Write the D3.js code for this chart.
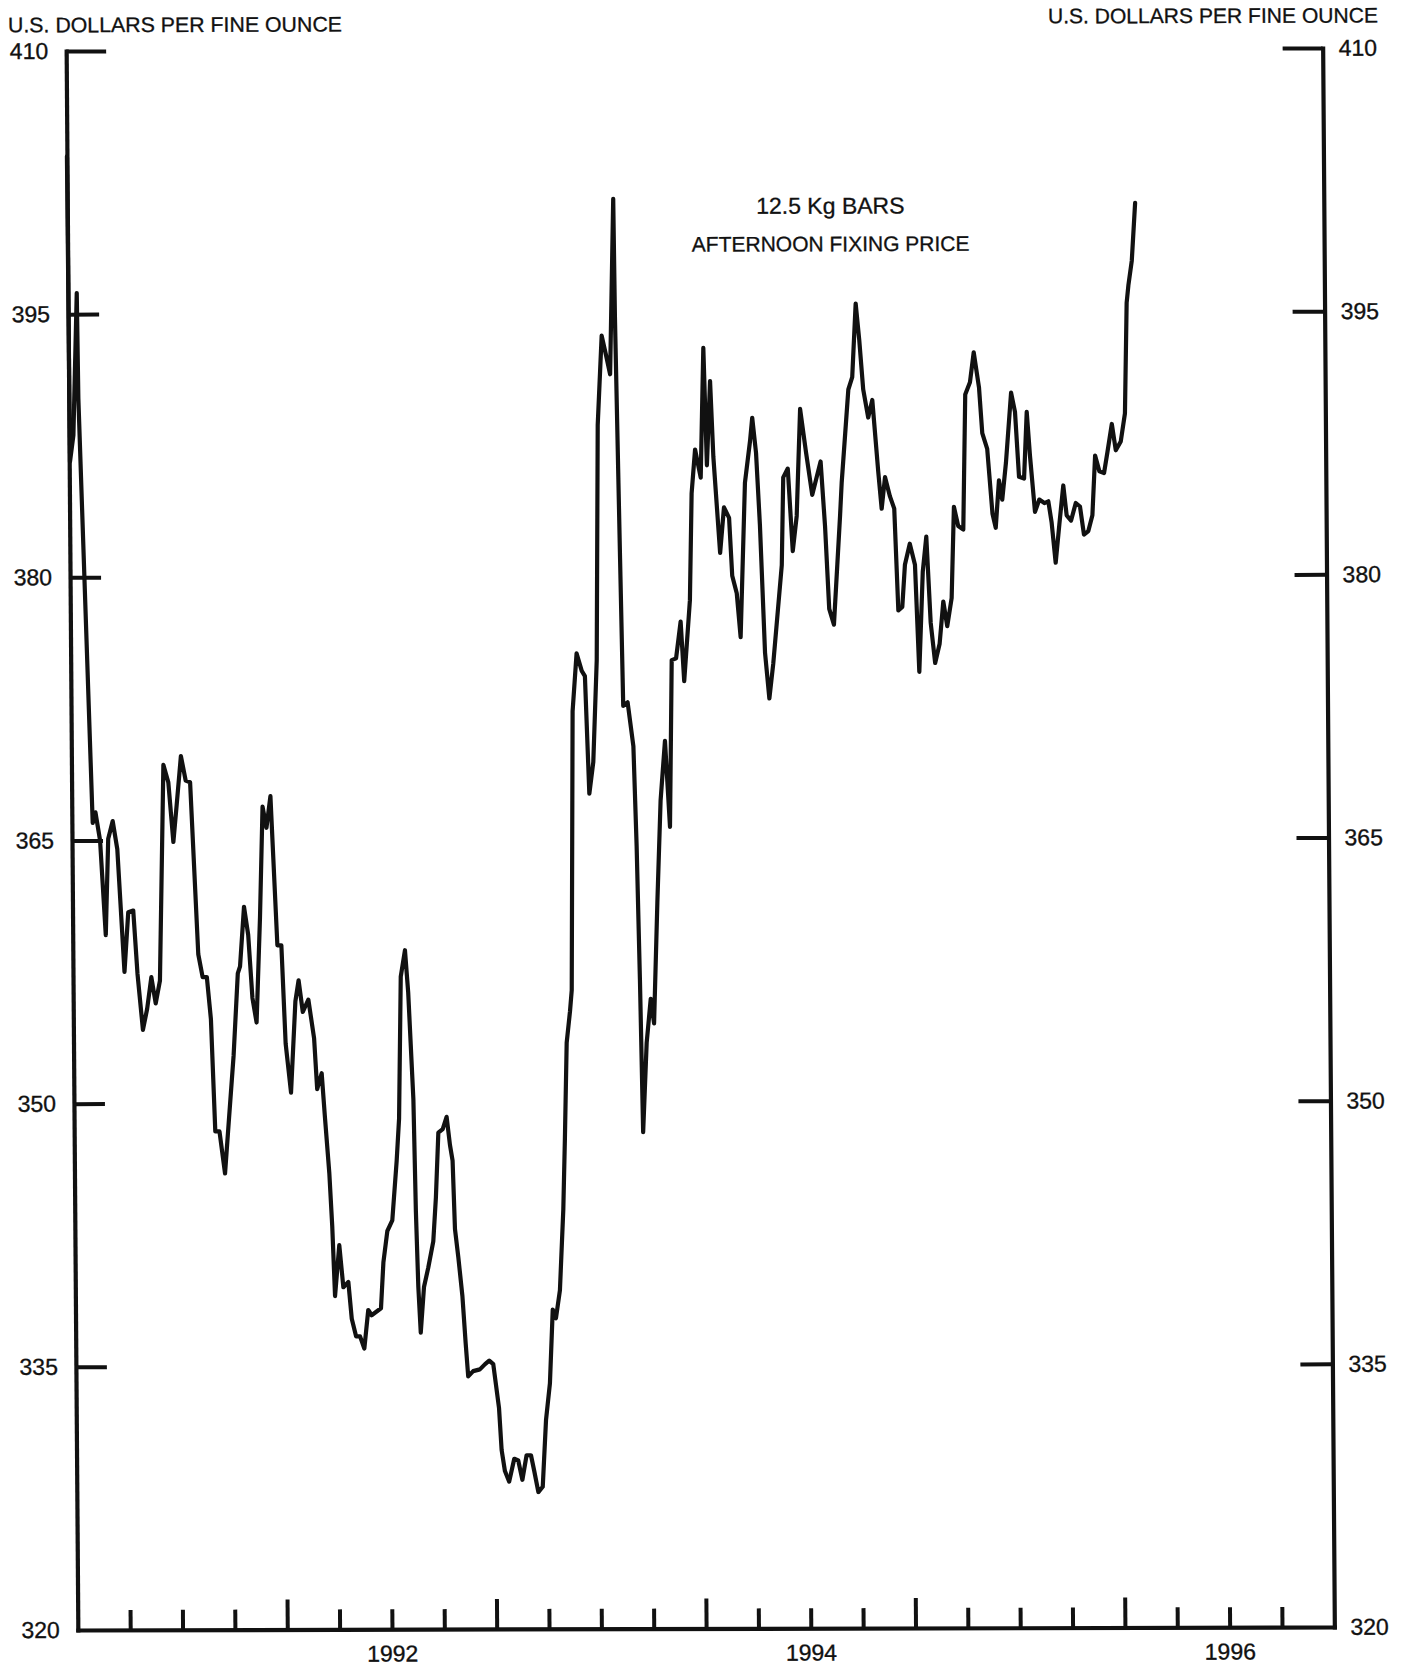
<!DOCTYPE html>
<html><head><meta charset="utf-8">
<script src="https://cdn.jsdelivr.net/npm/d3@7"></script>
<style>html,body{margin:0;padding:0;background:#fff;} svg{display:block;}</style>
</head><body>
<svg id="chart" width="1407" height="1666"></svg>
<script>
// ---- data (decimal year, US$ per fine ounce) ----
const dates = [
1991.000,1991.004,1991.021,1991.042,1991.046,1991.0995,1991.113,1991.134,1991.158,1991.173,
1991.195,1991.216,1991.246,1991.266,1991.290,1991.308,1991.332,1991.353,1991.374,1991.394,
1991.415,1991.439,1991.462,1991.484,1991.501,1991.523,1991.545,1991.566,1991.599,1991.619,
1991.639,1991.657,1991.674,1991.694,1991.719,1991.741,1991.764,1991.787,1991.798,1991.819,
1991.838,1991.856,1991.875,1991.895,1991.911,1991.929,1991.949,1991.977,1991.996,1992.013,
1992.037,1992.061,1992.077,1992.096,1992.123,1992.149,1992.162,1992.184,1992.198,1992.217,
1992.229,1992.240,1992.262,1992.280,1992.304,1992.319,1992.339,1992.358,1992.378,1992.398,
1992.414,1992.459,1992.472,1992.492,1992.516,1992.539,1992.552,1992.565,1992.586,1992.600,
1992.621,1992.629,1992.638,1992.648,1992.665,1992.686,1992.711,1992.725,1992.739,1992.760,
1992.779,1992.794,1992.806,1992.815,1992.830,1992.848,1992.862,1992.873,1992.897,1992.929,
1992.954,1992.974,1992.993,1993.019,1993.030,1993.045,1993.065,1993.090,1993.109,1993.128,
1993.149,1993.170,1993.185,1993.204,1993.225,1993.243,1993.263,1993.279,1993.294,1993.314,
1993.333,1993.343,1993.355,1993.372,1993.381,1993.395,1993.416,1993.440,1993.455,1993.472,
1993.492,1993.512,1993.525,1993.547,1993.567,1993.586,1993.607,1993.611,1993.627,1993.637,
1993.658,1993.684,1993.696,1993.707,1993.717,1993.737,1993.758,1993.773,1993.793,1993.812,
1993.835,1993.856,1993.870,1993.891,1993.914,1993.929,1993.959,1993.971,1993.989,1994.015,
1994.032,1994.045,1994.063,1994.076,1994.105,1994.125,1994.149,1994.162,1994.183,1994.200,
1994.226,1994.252,1994.263,1994.280,1994.296,1994.316,1994.335,1994.355,1994.399,1994.409,
1994.431,1994.452,1994.472,1994.492,1994.519,1994.547,1994.588,1994.607,1994.624,1994.646,
1994.679,1994.688,1994.723,1994.742,1994.761,1994.777,1994.794,1994.817,1994.837,1994.863,
1994.878,1994.895,1994.918,1994.938,1994.954,1994.973,1994.987,1995.011,1995.035,1995.052,
1995.072,1995.090,1995.108,1995.128,1995.150,1995.169,1995.187,1995.209,1995.223,1995.243,
1995.267,1995.281,1995.304,1995.323,1995.347,1995.361,1995.384,1995.407,1995.422,1995.439,
1995.454,1995.473,1995.500,1995.518,1995.535,1995.559,1995.574,1995.588,1995.610,1995.631,
1995.655,1995.674,1995.689,1995.707,1995.726,1995.746,1995.761,1995.782,1995.805,1995.825,
1995.843,1995.864,1995.884,1995.899,1995.919,1995.941,1995.958,1995.980,1995.998,1996.022,
1996.043,1996.055,1996.064,1996.081,1996.099
];
const prices = [
404.0,386.6,388.1,396.2,390.2,366.0,366.6,365.0,359.6,365.1,
366.1,364.5,357.5,360.9,361.0,357.4,354.2,355.4,357.2,355.7,
357.0,369.3,368.3,364.9,367.0,369.8,368.4,368.3,358.5,357.2,
357.2,354.8,348.4,348.4,346.0,349.3,352.7,357.4,357.8,361.2,
359.6,356.0,354.6,360.6,366.9,365.7,367.5,359.0,359.0,353.4,
350.6,355.8,357.0,355.2,355.9,353.7,350.8,351.7,349.2,346.0,
343.0,339.0,341.9,339.5,339.8,337.7,336.7,336.7,336.0,338.2,
337.9,338.3,340.9,342.7,343.3,346.7,349.1,357.2,358.7,356.3,
350.2,343.8,339.5,336.9,339.5,340.6,342.1,344.6,348.3,348.5,
349.2,347.6,346.7,342.8,341.2,339.0,336.3,334.4,334.7,334.8,
335.1,335.3,335.1,332.6,330.2,329.0,328.4,329.7,329.6,328.5,
329.9,329.9,329.0,327.8,328.1,331.9,334.0,338.2,337.7,339.3,
343.9,347.9,353.4,355.2,356.4,372.3,375.6,374.6,374.3,367.6,
369.4,375.2,388.6,393.7,392.6,391.5,401.5,394.8,381.0,372.6,
372.8,370.3,364.6,357.0,348.3,353.4,355.9,354.5,361.4,367.2,
370.6,365.7,375.2,375.3,377.4,374.0,378.6,384.7,387.2,385.6,
393.0,386.3,391.1,386.8,381.3,383.9,383.3,380.0,379.0,376.5,
385.3,387.7,389.0,387.0,382.9,375.6,373.0,375.0,380.6,385.6,
386.1,381.4,383.4,389.5,387.0,384.6,386.5,382.8,378.1,377.2,
383.4,385.3,390.6,391.3,395.5,393.4,390.6,389.0,390.0,385.9,
383.8,385.6,384.5,383.8,378.0,378.2,380.6,381.8,380.6,374.5,
380.2,382.2,377.3,375.0,376.1,378.5,377.1,378.7,383.9,382.8,
382.6,390.3,391.0,392.7,390.7,388.1,387.2,383.5,382.7,385.4,
384.3,386.4,390.4,389.3,385.6,385.5,389.3,386.8,383.6,384.3,
384.1,384.2,383.0,380.7,382.9,385.1,383.4,383.1,384.1,383.9,
382.3,382.5,383.4,386.8,385.9,385.8,387.0,388.6,387.1,387.6,
389.2,395.5,396.5,397.9,401.2
];
const yTickValues = [320, 335, 350, 365, 380, 395, 410];
const quarterTicks = [1991.25,1991.5,1991.75,1992,1992.25,1992.5,1992.75,1993,1993.25,1993.5,1993.75,
  1994,1994.25,1994.5,1994.75,1995,1995.25,1995.5,1995.75,1996,1996.25,1996.5,1996.75];
const yearTicks = [1992, 1993, 1994, 1995, 1996];
const yearLabels = [1992, 1994, 1996];
const unitTitle = "U.S. DOLLARS PER FINE OUNCE";
const noteLines = ["12.5 Kg BARS", "AFTERNOON FIXING PRICE"];

// ---- layout ----
const L = 72, R = 1328.5, T = 49.5, B = 1628.5;
const FONT = "'Liberation Sans', Arial, Helvetica, sans-serif";
const INK = "#111";

const svg = d3.select("#chart");
svg.append("rect").attr("width", 1407).attr("height", 1666).attr("fill", "#fff");
// slight skew of the scanned original
const g = svg.append("g").attr("transform", "matrix(1,-0.0024,0.0074,1,-6.21,1.68)");

const x = d3.scaleLinear().domain([1991, 1997]).range([L, R]);
const y = d3.scaleLinear().domain([320, 410]).range([B, T]);

function styleAxis(sel, fs) {
  sel.attr("font-family", FONT).attr("font-size", fs);
  sel.selectAll("path.domain").attr("stroke", INK).attr("stroke-width", 4.2).attr("stroke-linecap", "square");
  sel.selectAll(".tick line").attr("stroke", INK).attr("stroke-width", 4);
  sel.selectAll("text").attr("fill", INK).attr("stroke", INK).attr("stroke-width", 0.35);
}

// left axis
const gl = g.append("g").attr("transform", `translate(${L},0)`)
  .call(d3.axisLeft(y).tickValues(yTickValues).tickSizeInner(-31).tickSizeOuter(0).tickPadding(18).tickFormat(d3.format("d")));
styleAxis(gl, 23);
gl.selectAll(".tick").filter(d => d === 410).select("line").attr("x2", 40);
gl.selectAll(".tick").filter(d => d === 320).select("line").remove();

// right axis
const gr = g.append("g").attr("transform", `translate(${R},0)`)
  .call(d3.axisRight(y).tickValues(yTickValues).tickSizeInner(-32).tickSizeOuter(0).tickPadding(16).tickFormat(d3.format("d")));
styleAxis(gr, 23);
gr.selectAll(".tick").filter(d => d === 410).select("line").attr("x2", -40);
gr.selectAll(".tick").filter(d => d === 320).select("line").remove();

// bottom axis with quarterly ticks
const gb = g.append("g").attr("transform", `translate(0,${B})`)
  .call(d3.axisBottom(x).tickValues(quarterTicks).tickSizeInner(-20).tickSizeOuter(0).tickFormat(""));
styleAxis(gb, 23);
gb.selectAll(".tick").filter(d => yearTicks.includes(d)).select("line").attr("y2", -30);

// year labels centred in their year
const gy = g.append("g").attr("transform", `translate(0,${B})`)
  .call(d3.axisBottom(x).tickValues(yearLabels.map(v => v + 0.5)).tickSize(0).tickPadding(16)
    .tickFormat((d, i) => String(yearLabels[i])));
gy.select("path.domain").remove();
styleAxis(gy, 23);

// price line
const line = d3.line().x((d, i) => x(dates[i])).y(d => y(d)).curve(d3.curveLinear);
g.append("path").datum(prices)
  .attr("d", line).attr("fill", "none").attr("stroke", INK)
  .attr("stroke-width", 4.2).attr("stroke-linejoin", "round").attr("stroke-linecap", "round");

// titles
function addText(xp, yp, anchor, fs, str, len) {
  const t = g.append("text").attr("x", xp).attr("y", yp).attr("text-anchor", anchor)
    .attr("font-family", FONT).attr("font-size", fs).attr("fill", INK)
    .attr("stroke", INK).attr("stroke-width", 0.3).text(str);
  if (len) t.attr("textLength", len).attr("lengthAdjust", "spacingAndGlyphs");
  return t;
}
addText(14, 30.7, "start", 21, unitTitle, 334);
addText(1384, 24.2, "end", 21, unitTitle, 330);

// annotation
addText(835, 214, "middle", 23, noteLines[0]);
addText(835, 251.5, "middle", 21, noteLines[1]);
</script>
</body></html>
